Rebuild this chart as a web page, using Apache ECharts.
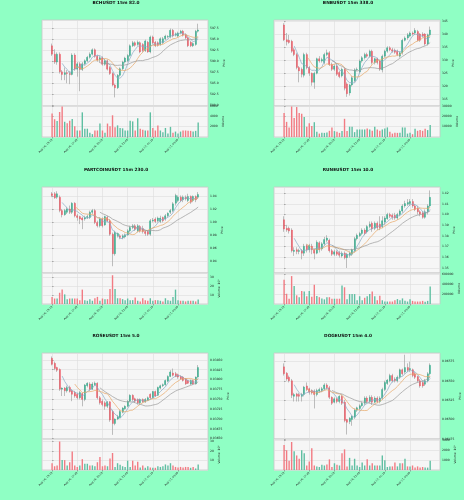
<!DOCTYPE html>
<html>
<head>
<meta charset="utf-8">
<script src="https://cdn.jsdelivr.net/npm/echarts@6/dist/echarts.min.js"></script>
<style>
    html, body {margin: 0; padding: 0; background: #8fffc4;}
    #chart {width: 464px; height: 500px;}
</style>
</head>
<body>
<div id="chart"></div>
<script>
    // x positions of the date ticks (candle index) and their labels
    const tickIdx = [0, 10, 20, 30, 40, 50];
    const timeLabels = ['Aug 16, 15:15', 'Aug 16, 17:45', 'Aug 16, 20:15', 'Aug 16, 22:45', 'Aug 17, 01:15', 'Aug 17, 03:45'];
    const maPeriods = [5, 10, 20];

    // candles: [open, close, low, high]
    const bchCandles = [
        [593.5,591.6,591.2,594.0],[591.6,589.8,589.4,592.7],[589.8,591.6,589.2,592.0],[591.6,587.6,587.2,592.0],
        [587.6,587.0,585.7,588.0],[587.0,587.4,585.7,588.6],[587.4,587.2,585.0,588.0],[587.2,587.0,584.8,587.8],
        [587.0,591.4,586.8,591.8],[591.4,588.2,587.8,591.8],[588.2,589.4,586.5,589.8],[589.4,588.1,583.2,589.8],
        [588.1,589.4,587.8,589.8],[589.4,590.1,589.1,590.4],[590.1,590.9,589.8,591.2],[590.9,591.6,590.6,592.0],
        [591.6,592.6,591.3,592.9],[592.6,591.1,590.8,592.9],[591.1,590.3,589.9,591.5],[590.3,590.8,589.6,591.2],
        [590.8,589.3,589.0,591.1],[589.3,590.1,589.0,590.5],[590.1,588.2,587.9,590.4],[588.6,587.2,586.9,588.9],
        [587.2,584.6,584.3,587.5],[584.6,584.0,581.8,584.9],[584.0,586.8,583.7,587.1],[586.8,588.3,586.5,588.6],
        [588.3,589.8,588.0,590.1],[589.8,590.7,589.5,591.0],[590.1,591.3,589.8,591.6],[591.3,593.5,591.0,593.8],
        [593.5,594.2,593.2,594.6],[594.2,593.6,593.3,594.5],[593.8,594.3,593.5,594.7],[594.2,592.1,591.8,594.5],
        [593.8,592.4,592.0,594.1],[592.4,594.6,592.1,594.9],[594.3,592.1,591.9,594.6],[592.1,595.5,591.8,595.8],
        [595.5,594.2,593.9,595.8],[594.3,593.5,593.2,594.6],[594.2,593.6,593.3,594.5],[593.8,595.1,593.5,595.4],
        [594.2,595.1,593.9,595.5],[595.1,595.7,594.8,596.0],[595.5,595.6,595.2,595.9],[595.5,597.0,595.2,597.4],
        [597.0,595.7,595.4,597.3],[595.9,596.2,595.6,596.5],[595.7,596.4,595.4,596.7],[596.4,596.8,596.1,597.1],
        [596.8,595.9,595.6,597.1],[596.0,595.3,595.0,596.3],[595.3,593.5,593.2,595.6],[594.3,593.5,593.2,594.6],
        [593.5,594.0,593.2,594.3],[593.8,596.8,593.5,597.1],[596.8,597.1,596.5,598.5]
    ];
    const bchVolume = [4560,3440,3090,4840,5900,2950,2670,3160,3500,2100,1260,1260,4770,1610,1610,840,560,1260,1260,2600,
        1260,840,2600,2100,4200,1900,2250,1750,1680,1260,1260,3160,3020,1260,3650,1610,1400,1260,1260,4770,
        1750,1260,2250,1260,910,1750,700,1960,840,1050,700,1050,1260,1260,1190,1190,1050,1190,2800];

    const bnbCandles = [
        [343.7,338.0,337.5,344.4],[338.0,337.2,335.8,340.6],[337.8,337.0,336.5,339.9],[337.4,333.6,333.0,338.0],
        [334.2,332.3,331.7,334.9],[332.3,327.3,326.6,333.0],[327.3,326.0,321.6,327.9],[326.6,324.7,323.5,327.3],
        [324.3,332.3,323.5,333.0],[332.3,327.3,326.6,333.0],[327.3,325.1,324.1,327.9],[325.1,321.6,320.3,325.4],
        [321.6,325.1,319.1,325.7],[325.1,330.7,324.7,331.1],[330.7,329.8,329.2,331.7],[329.8,330.4,329.2,331.1],
        [329.2,332.3,328.5,333.0],[332.3,333.0,331.7,334.2],[333.0,328.5,327.9,333.6],[328.5,326.6,326.0,329.2],
        [326.6,327.9,326.0,328.5],[327.9,324.7,324.1,328.5],[325.4,323.8,323.2,326.0],[324.1,326.6,323.5,327.3],
        [326.6,319.3,318.5,327.3],[321.0,317.2,316.0,321.6],[317.5,320.6,316.5,321.0],[320.6,323.4,320.0,324.0],
        [322.2,326.4,321.6,327.0],[326.4,326.6,326.0,327.3],[325.6,329.8,325.0,330.4],[329.8,331.1,329.2,331.7],
        [331.1,332.3,330.4,333.0],[332.3,331.7,331.1,333.0],[331.7,333.6,331.1,334.2],[333.6,329.2,328.5,334.2],
        [329.2,330.7,328.5,331.1],[330.7,329.2,328.5,331.1],[329.8,326.6,326.0,330.4],[326.4,331.7,325.4,332.3],
        [331.7,333.6,331.1,334.2],[333.6,334.9,333.0,335.5],[334.9,334.2,333.6,335.5],[334.2,333.6,333.0,334.9],
        [334.0,333.2,332.6,334.6],[333.6,332.3,331.7,334.2],[331.7,333.0,331.1,333.6],[333.0,337.8,332.3,338.4],
        [337.8,338.7,337.4,339.3],[338.7,339.9,338.0,340.6],[339.5,340.6,339.0,341.2],[340.6,340.2,339.6,341.2],
        [340.6,341.6,340.0,342.5],[341.2,337.8,337.4,341.8],[340.2,337.8,337.2,340.6],[340.2,339.5,338.9,340.9],
        [340.2,336.4,335.8,340.6],[336.4,339.9,335.8,340.4],[339.9,341.8,339.3,343.1]
    ];
    const bnbVolume = [23300,14650,9300,29500,18300,29000,23300,22600,19300,10000,13300,10600,14300,5000,3300,4000,4000,4300,6000,9300,
        5700,5000,4000,5700,17600,5700,10000,10000,4700,7300,7300,7300,7300,8300,7300,6000,10000,7300,6000,7300,
        8300,9300,5000,3300,4000,4000,4000,9300,9300,3300,4000,2700,8000,6000,6700,6000,8000,6700,11700];

    const partCandles = [
        [1.0431,1.0405,1.0379,1.0457],[1.0431,1.0369,1.0353,1.0457],[1.0379,1.0431,1.0353,1.0470],[1.0379,1.0172,1.0146,1.0405],
        [1.0172,1.0110,1.0068,1.0198],[1.0110,1.0172,1.0094,1.0198],[1.0146,1.0198,1.0120,1.0224],[1.0198,1.0146,1.0120,1.0250],
        [1.0146,1.0286,1.0120,1.0302],[1.0286,1.0094,1.0068,1.0302],[1.0094,1.0068,1.0017,1.0120],[1.0080,1.0043,0.9965,1.0094],
        [1.0058,1.0027,0.9887,1.0080],[1.0043,1.0068,1.0017,1.0094],[1.0068,1.0080,1.0043,1.0110],[1.0068,1.0146,1.0043,1.0172],
        [1.0146,1.0172,1.0120,1.0198],[1.0172,0.9991,0.9965,1.0198],[0.9991,0.9939,0.9913,1.0017],[0.9939,1.0043,0.9913,1.0068],
        [1.0043,0.9939,0.9913,1.0068],[0.9950,1.0080,0.9939,1.0094],[1.0068,1.0017,0.9991,1.0094],[1.0017,0.9809,0.9784,1.0043],
        [0.9809,0.9509,0.9317,0.9835],[0.9509,0.9835,0.9480,0.9861],[0.9784,0.9820,0.9758,0.9835],[0.9784,0.9758,0.9732,0.9809],
        [0.9758,0.9784,0.9732,0.9809],[0.9768,0.9799,0.9745,0.9820],[0.9799,0.9861,0.9784,0.9887],[0.9861,0.9913,0.9835,0.9939],
        [0.9913,0.9939,0.9887,0.9965],[0.9939,0.9887,0.9861,0.9965],[0.9861,0.9939,0.9835,0.9965],[0.9929,0.9861,0.9835,0.9950],
        [0.9897,0.9851,0.9820,0.9939],[0.9851,0.9820,0.9784,0.9861],[0.9851,0.9809,0.9784,0.9870],[0.9809,1.0017,0.9784,1.0043],
        [1.0017,1.0027,0.9991,1.0058],[1.0043,1.0006,0.9980,1.0068],[1.0017,1.0058,0.9991,1.0080],[1.0006,1.0058,0.9980,1.0094],
        [1.0068,1.0017,0.9991,1.0080],[1.0043,1.0094,1.0017,1.0120],[1.0094,1.0130,1.0068,1.0146],[1.0146,1.0172,1.0120,1.0198],
        [1.0172,1.0276,1.0146,1.0302],[1.0286,1.0405,1.0250,1.0431],[1.0327,1.0379,1.0302,1.0405],[1.0379,1.0327,1.0302,1.0405],
        [1.0338,1.0379,1.0302,1.0405],[1.0379,1.0353,1.0327,1.0405],[1.0327,1.0390,1.0302,1.0431],[1.0390,1.0302,1.0276,1.0405],
        [1.0327,1.0390,1.0302,1.0405],[1.0390,1.0338,1.0302,1.0405],[1.0379,1.0421,1.0353,1.0457]
    ];
    const partVolume = [7.9,6.1,6.1,12.5,16,10.7,5.4,6.1,6.1,6.1,6.1,4.3,16,4.3,3.6,5.4,3.6,6.4,7.9,3.6,
        6.1,5.4,5.4,16.8,32,16.8,6.4,6.4,5.4,4.3,6.1,4.3,4.3,7.1,3.6,2.9,6.4,4.3,3.6,6.4,
        3.6,4.3,4.3,3.6,2.9,6.4,4.3,3.6,7.9,16,4.3,3.6,3.6,2.9,3.6,3.6,3.6,2.9,5];

    const runeCandles = [
        [1.3951,1.3864,1.3838,1.3984],[1.3871,1.3854,1.3838,1.3903],[1.3871,1.3845,1.3822,1.3887],[1.3854,1.3661,1.3644,1.3871],
        [1.3654,1.3666,1.3612,1.3693],[1.3670,1.3654,1.3628,1.3693],[1.3654,1.3664,1.3628,1.3680],[1.3661,1.3638,1.3580,1.3677],
        [1.3638,1.3703,1.3612,1.3725],[1.3709,1.3670,1.3644,1.3725],[1.3670,1.3709,1.3644,1.3725],[1.3703,1.3670,1.3628,1.3725],
        [1.3670,1.3638,1.3580,1.3680],[1.3638,1.3741,1.3628,1.3758],[1.3735,1.3670,1.3644,1.3750],[1.3677,1.3725,1.3661,1.3741],
        [1.3725,1.3767,1.3709,1.3790],[1.3758,1.3780,1.3741,1.3806],[1.3758,1.3661,1.3644,1.3774],[1.3661,1.3628,1.3612,1.3677],
        [1.3628,1.3651,1.3612,1.3670],[1.3651,1.3628,1.3612,1.3664],[1.3644,1.3618,1.3596,1.3661],[1.3612,1.3638,1.3596,1.3654],
        [1.3638,1.3596,1.3580,1.3654],[1.3596,1.3628,1.3499,1.3640],[1.3618,1.3638,1.3596,1.3654],[1.3628,1.3670,1.3612,1.3680],
        [1.3661,1.3774,1.3644,1.3790],[1.3774,1.3806,1.3758,1.3822],[1.3800,1.3822,1.3790,1.3838],[1.3822,1.3854,1.3806,1.3871],
        [1.3854,1.3822,1.3806,1.3871],[1.3838,1.3887,1.3822,1.3903],[1.3887,1.3910,1.3871,1.3935],[1.3919,1.3864,1.3838,1.3935],
        [1.3871,1.3919,1.3854,1.3935],[1.3919,1.3877,1.3854,1.3935],[1.3910,1.3877,1.3854,1.3984],[1.3887,1.3942,1.3871,1.3984],
        [1.3929,1.3967,1.3903,1.3984],[1.3961,1.4000,1.3951,1.4016],[1.4000,1.3984,1.3967,1.4016],[1.3993,1.3974,1.3951,1.4010],
        [1.3993,1.3967,1.3951,1.4016],[1.3967,1.4000,1.3951,1.4016],[1.4000,1.4032,1.3984,1.4048],[1.4032,1.4081,1.4016,1.4097],
        [1.4081,1.4103,1.4064,1.4129],[1.4097,1.4113,1.4081,1.4145],[1.4103,1.4122,1.4081,1.4145],[1.4122,1.4081,1.4064,1.4145],
        [1.4081,1.4048,1.4032,1.4097],[1.4058,1.4026,1.4000,1.4081],[1.4026,1.4006,1.3984,1.4040],[1.4016,1.3974,1.3961,1.4032],
        [1.3974,1.4026,1.3961,1.4048],[1.4026,1.4081,1.4000,1.4097],[1.4081,1.4161,1.4064,1.4226]
    ];
    const runeVolume = [480000,203000,105000,554000,357000,172000,135000,258000,246000,154000,258000,142000,382000,160000,135000,111000,92000,135000,135000,105000,
        105000,105000,105000,369000,332000,92000,197000,197000,197000,74000,154000,74000,123000,154000,197000,246000,154000,74000,166000,74000,
        49000,49000,49000,49000,74000,98000,74000,111000,62000,49000,92000,62000,49000,49000,49000,62000,43000,62000,345000];

    const roseCandles = [
        [0.038544,0.038386,0.038360,0.038587],[0.038413,0.038282,0.038238,0.038456],[0.038308,0.038238,0.038194,0.038325],[0.038255,0.037757,0.037713,0.038282],
        [0.037757,0.037783,0.037582,0.037801],[0.037783,0.037713,0.037582,0.037810],[0.037713,0.037801,0.037670,0.037845],[0.037801,0.037696,0.037670,0.037845],
        [0.037713,0.037626,0.037451,0.037757],[0.037670,0.037582,0.037539,0.037713],[0.037626,0.037539,0.037495,0.037670],[0.037539,0.037670,0.037495,0.037713],
        [0.037644,0.037495,0.037320,0.037670],[0.037495,0.037862,0.037451,0.037888],[0.037845,0.037906,0.037801,0.037932],[0.037888,0.037757,0.037713,0.037932],
        [0.037757,0.037888,0.037739,0.037932],[0.037871,0.037906,0.037845,0.037950],[0.037906,0.037539,0.037495,0.037932],[0.037539,0.037408,0.037364,0.037582],
        [0.037451,0.037364,0.037320,0.037495],[0.037408,0.037320,0.037233,0.037451],[0.037320,0.037434,0.037276,0.037451],[0.037434,0.036971,0.036927,0.037451],
        [0.037189,0.036884,0.036595,0.037233],[0.036884,0.036997,0.036839,0.037014],[0.036997,0.037058,0.036971,0.037102],[0.037032,0.037189,0.037014,0.037233],
        [0.037171,0.037276,0.037145,0.037300],[0.037259,0.037320,0.037233,0.037345],[0.037320,0.037451,0.037300,0.037480],[0.037451,0.037600,0.037430,0.037626],
        [0.037600,0.037495,0.037451,0.037626],[0.037512,0.037451,0.037408,0.037539],[0.037495,0.037408,0.037364,0.037520],[0.037408,0.037495,0.037364,0.037520],
        [0.037495,0.037434,0.037408,0.037520],[0.037434,0.037495,0.037408,0.037530],[0.037469,0.037539,0.037451,0.037570],[0.037626,0.037539,0.037495,0.037650],
        [0.037539,0.037696,0.037512,0.037713],[0.037696,0.037582,0.037560,0.037720],[0.037600,0.037801,0.037582,0.037820],[0.037783,0.037845,0.037757,0.037870],
        [0.037845,0.037871,0.037810,0.037900],[0.037871,0.037976,0.037845,0.038000],[0.037958,0.038080,0.037932,0.038107],[0.038080,0.038194,0.038063,0.038238],
        [0.038167,0.038107,0.038080,0.038280],[0.038150,0.038080,0.038063,0.038194],[0.038124,0.038063,0.038019,0.038150],[0.038080,0.038019,0.037993,0.038107],
        [0.038063,0.037976,0.037950,0.038090],[0.038019,0.037888,0.037862,0.038040],[0.037976,0.037906,0.037888,0.037993],[0.037888,0.037976,0.037862,0.038000],
        [0.037976,0.037888,0.037871,0.037993],[0.037888,0.038063,0.037871,0.038080],[0.038063,0.038308,0.038045,0.038369]
    ];
    const roseVolume = [7.1,3.9,4.8,29.7,10.3,10.3,4.8,8.1,19.4,4.8,3.2,4.8,11.3,6.5,6.5,4.8,4.8,3.9,8.1,13.5,
        3.9,4.8,3.9,11.9,17.7,3.2,7.1,5.5,3.9,3.2,9.7,3.2,9.7,4.8,8.7,2.6,4.8,2.3,3.9,2.6,
        2.3,2.3,3.9,3.2,3.9,5.8,4.8,7.1,4.8,3.2,2.6,3.2,2.6,3.2,3.2,2.3,3.2,1.6,5.8];

    const dogeCandles = [
        [0.065683,0.065593,0.065570,0.065728],[0.065601,0.065526,0.065503,0.065615],[0.065548,0.065503,0.065481,0.065570],[0.065503,0.065315,0.065279,0.065526],
        [0.065301,0.065324,0.065234,0.065346],[0.065333,0.065301,0.065234,0.065346],[0.065324,0.065301,0.065234,0.065346],[0.065301,0.065324,0.065234,0.065346],
        [0.065324,0.065422,0.065301,0.065436],[0.065436,0.065391,0.065369,0.065481],[0.065400,0.065355,0.065324,0.065413],[0.065378,0.065346,0.065324,0.065391],
        [0.065369,0.065324,0.065144,0.065391],[0.065324,0.065378,0.065301,0.065400],[0.065369,0.065391,0.065346,0.065413],[0.065378,0.065400,0.065355,0.065422],
        [0.065400,0.065449,0.065378,0.065470],[0.065449,0.065413,0.065391,0.065470],[0.065413,0.065288,0.065266,0.065436],[0.065288,0.065211,0.065189,0.065301],
        [0.065225,0.065270,0.065211,0.065288],[0.065270,0.065234,0.065211,0.065288],[0.065234,0.065301,0.065211,0.065315],[0.065301,0.065211,0.065189,0.065324],
        [0.065225,0.064987,0.064965,0.065256],[0.065000,0.064965,0.064807,0.065009],[0.064974,0.065018,0.064942,0.065032],[0.065000,0.065045,0.064920,0.065054],
        [0.065032,0.065122,0.065009,0.065144],[0.065122,0.065153,0.065099,0.065167],[0.065144,0.065180,0.065122,0.065198],[0.065180,0.065211,0.065167,0.065234],
        [0.065211,0.065279,0.065189,0.065301],[0.065279,0.065234,0.065211,0.065301],[0.065234,0.065288,0.065211,0.065315],[0.065288,0.065225,0.065189,0.065315],
        [0.065225,0.065279,0.065211,0.065301],[0.065279,0.065234,0.065211,0.065301],[0.065234,0.065279,0.065211,0.065301],[0.065279,0.065391,0.065256,0.065413],
        [0.065391,0.065481,0.065369,0.065503],[0.065467,0.065512,0.065449,0.065526],[0.065503,0.065570,0.065481,0.065593],[0.065570,0.065503,0.065481,0.065593],
        [0.065526,0.065503,0.065481,0.065548],[0.065503,0.065548,0.065481,0.065570],[0.065548,0.065646,0.065526,0.065660],[0.065646,0.065593,0.065570,0.065660],
        [0.065615,0.065674,0.065593,0.065840],[0.065674,0.065638,0.065615,0.065728],[0.065646,0.065660,0.065615,0.065750],[0.065646,0.065570,0.065548,0.065660],
        [0.065593,0.065548,0.065526,0.065615],[0.065557,0.065503,0.065481,0.065570],[0.065503,0.065436,0.065413,0.065526],[0.065481,0.065436,0.065413,0.065503],
        [0.065458,0.065503,0.065436,0.065526],[0.065503,0.065593,0.065481,0.065615],[0.065593,0.065705,0.065570,0.065728]
    ];
    const dogeVolume = [2480,1970,910,2790,1880,1450,1120,1970,1670,450,850,2180,450,360,300,520,450,550,1060,300,
        670,520,450,1670,2060,360,1210,450,1120,450,300,760,450,1060,450,670,450,450,450,1450,
        970,300,360,360,760,360,670,670,1120,360,360,450,240,360,240,300,240,240,910];

    const panels = [
        {title: 'BCHUSDT 15m 82.0', candles: bchCandles, volume: bchVolume,
            priceMin: 579.85, priceMax: 599.34, priceStep: 2.5, digits: 1, priceGap: 13,
            volMax: 6000, volStep: 2000, volTop: true, volName: 'Volume', volGap: 13},
        {title: 'BNBUSDT 15m 338.0', candles: bnbCandles, volume: bnbVolume,
            priceMin: 312.47, priceMax: 345.63, priceStep: 5, digits: 0, priceGap: 11,
            volMax: 30000, volStep: 10000, volTop: true, volName: 'Volume', volGap: 14},
        {title: 'PARTCOINUSDT 15m 230.0', candles: partCandles, volume: partVolume,
            priceMin: 0.9213, priceMax: 1.0535, priceStep: 0.02, digits: 2, priceGap: 11,
            volMax: 34.5, volStep: 10, volTop: false, volName: 'Volume  10⁵', volGap: 8},
        {title: 'RUNEUSDT 15m 10.0', candles: runeCandles, volume: runeVolume,
            priceMin: 1.3452, priceMax: 1.4258, priceStep: 0.01, digits: 2, priceGap: 12,
            volMax: 615000, volStep: 200000, volTop: false, volName: 'Volume', volGap: 15},
        {title: 'ROSEUSDT 15m 5.0', candles: roseCandles, volume: roseVolume,
            priceMin: 0.03649, priceMax: 0.038675, priceStep: 0.00025, digits: 5, priceGap: 17,
            volMax: 32.3, volStep: 10, volTop: false, volName: 'Volume  10⁶', volGap: 8},
        {title: 'DOGEUSDT 15m 4.0', candles: dogeCandles, volume: dogeVolume,
            priceMin: 0.064749, priceMax: 0.065862, priceStep: 0.00025, digits: 5, priceGap: 17,
            volMax: 3090, volStep: 1000, volTop: false, volName: 'Volume  10³', volGap: 11}
    ];

    const upColor = '#22a884';
    const downColor = '#ef4c58';
    const upVolColor = '#5fbfa2';
    const downVolColor = '#f27b83';
    const wickColor = '#a3a3a3';
    const maColors = ['#8aaac6', '#e8a765', '#9a9a9a'];
    const plotBg = '#f6f6f6';
    const gridColor = '#dedede';
    const frameColor = '#c6c6c6';
    const textColor = '#222';
    const rowTops = [20, 187, 353];
    const priceH = 86, volH = 31, plotW = 166;

    function movingAverage(candles, n) {
        const out = [];
        for (let i = n - 1; i < candles.length; i++) {
            let s = 0;
            for (let k = i - n + 1; k <= i; k++) s += candles[k][1];
            out.push([i, s / n]);
        }
        return out;
    }

    function makeXAxis(gridIndex, withLabels) {
        return {
            type: 'value', gridIndex: gridIndex, min: -4, max: 61.9,
            axisLine: {show: false},
            axisTick: {show: withLabels, length: 1.5, customValues: tickIdx, lineStyle: {color: '#666', width: 0.5}},
            axisLabel: {
                show: withLabels, customValues: tickIdx, rotate: 45, fontSize: 2.6, margin: 2.5,
                color: textColor, fontFamily: 'DejaVu Sans',
                formatter: v => timeLabels[tickIdx.indexOf(v)] || ''
            },
            splitLine: {show: true, lineStyle: {color: gridColor, width: 0.6}}
        };
    }

    function makeYAxis(gridIndex, min, max, step, showTop, fmt, name, gap) {
        return {
            type: 'value', gridIndex: gridIndex, position: 'right',
            min: min, max: max, minInterval: step, maxInterval: step, splitNumber: 6,
            axisLine: {show: false},
            axisTick: {show: true, length: 1.5, lineStyle: {color: '#666', width: 0.5}},
            axisLabel: {
                fontSize: 3, margin: 2, color: textColor, fontFamily: 'DejaVu Sans',
                showMinLabel: false, showMaxLabel: showTop, formatter: fmt
            },
            splitLine: {show: true, lineStyle: {color: gridColor, width: 0.6}},
            name: name, nameLocation: 'middle', nameRotate: 90, nameGap: gap,
            nameTextStyle: {fontSize: 3, color: textColor, fontFamily: 'DejaVu Sans'}
        };
    }

    const grids = [], xAxes = [], yAxes = [], series = [], graphics = [];

    panels.forEach((p, n) => {
        const col = n % 2, row = Math.floor(n / 2);
        const left = 42 + 232 * col, top = rowTops[row];
        const gp = grids.length, gv = gp + 1;
        const gridBase = {
            left: left, width: plotW, show: true, backgroundColor: plotBg,
            borderColor: frameColor, borderWidth: 0.8, containLabel: false, outerBoundsMode: 'none'
        };
        grids.push(Object.assign({top: top, height: priceH}, gridBase));
        grids.push(Object.assign({top: top + priceH, height: volH}, gridBase));

        xAxes.push(makeXAxis(gp, false));
        xAxes.push(makeXAxis(gv, true));
        yAxes.push(makeYAxis(gp, p.priceMin, p.priceMax, p.priceStep, false,
            v => v.toFixed(p.digits), 'Price', p.priceGap));
        yAxes.push(makeYAxis(gv, 0, p.volMax, p.volStep, p.volTop,
            v => String(Math.round(v)), p.volName, p.volGap));

        // wicks (gray), then coloured bodies on top
        series.push({
            type: 'candlestick', xAxisIndex: gp, yAxisIndex: gp, barWidth: 0.8,
            encode: {x: 0, y: [1, 2, 3, 4]},
            data: p.candles.map((d, i) => [i, d[0], d[1], d[2], d[3]]),
            itemStyle: {color: wickColor, color0: wickColor, borderColor: wickColor, borderColor0: wickColor, borderWidth: 0.7},
            z: 2
        });
        series.push({
            type: 'candlestick', xAxisIndex: gp, yAxisIndex: gp, barWidth: 1.5,
            encode: {x: 0, y: [1, 2, 3, 4]},
            data: p.candles.map((d, i) => [i, d[0], d[1], Math.min(d[0], d[1]), Math.max(d[0], d[1])]),
            itemStyle: {color: upColor, color0: downColor, borderColor: upColor, borderColor0: downColor, borderWidth: 0.3},
            z: 3
        });
        maPeriods.forEach((m, k) => {
            series.push({
                type: 'line', xAxisIndex: gp, yAxisIndex: gp, data: movingAverage(p.candles, m),
                showSymbol: false, symbol: 'none', lineStyle: {color: maColors[k], width: 0.7}, z: 4
            });
        });
        series.push({
            type: 'bar', xAxisIndex: gv, yAxisIndex: gv, barWidth: 1.4,
            data: p.volume.map((v, i) => ({
                value: [i, v],
                itemStyle: {color: p.candles[i][1] >= p.candles[i][0] ? upVolColor : downVolColor}
            }))
        });

        graphics.push({
            type: 'text', x: 116 + 232 * col, y: [3, 169.5, 336][row],
            style: {
                text: p.title, align: 'center', verticalAlign: 'middle',
                font: 'bold 4.3px "DejaVu Sans"', fill: '#111'
            }
        });
    });

    const chart = echarts.init(document.getElementById('chart'));
    chart.setOption({
        backgroundColor: '#8fffc4',
        animation: false,
        grid: grids,
        xAxis: xAxes,
        yAxis: yAxes,
        series: series,
        graphic: graphics
    });
</script>
</body>
</html>
